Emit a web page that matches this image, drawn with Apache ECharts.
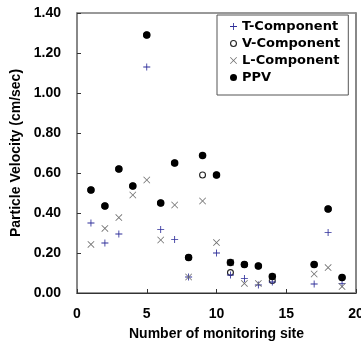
<!DOCTYPE html>
<html>
<head>
<meta charset="utf-8">
<script src="https://cdn.jsdelivr.net/npm/echarts@6/dist/echarts.min.js"></script>
<style>html,body{margin:0;padding:0;background:#fff;}#c{width:361px;height:343px;}</style>
</head>
<body>
<div id="c"></div>
<script>
var sites = [1, 2, 3, 4, 5, 6, 7, 8, 9, 10, 11, 12, 13, 14, 17, 18, 19];
var tComp = [0.35, 0.25, 0.295, null, 1.13, 0.318, 0.268, 0.08, 0.687, 0.20, 0.09, 0.073, 0.04, 0.055, 0.045, 0.303, 0.048];
var vComp = [0.515, 0.435, 0.62, 0.535, 1.29, 0.45, 0.65, 0.177, 0.59, 0.59, 0.102, 0.143, 0.135, 0.062, 0.143, 0.42, 0.078];
var lComp = [0.243, 0.323, 0.377, 0.49, 0.565, 0.265, 0.44, 0.08, 0.46, 0.252, 0.152, 0.048, 0.048, 0.08, 0.095, 0.127, 0.032];
var ppv = [0.515, 0.435, 0.62, 0.535, 1.29, 0.45, 0.65, 0.177, 0.687, 0.59, 0.152, 0.143, 0.135, 0.082, 0.143, 0.42, 0.078];
var yTicks = ['0.00', '0.20', '0.40', '0.60', '0.80', '1.00', '1.20', '1.40'];

function pairs(vals) {
  var out = [];
  for (var i = 0; i < sites.length; i++) {
    if (vals[i] !== null) out.push([sites[i], vals[i]]);
  }
  return out;
}
var plusPath = 'path://M4.4,0H5.6V4.4H10V5.6H5.6V10H4.4V5.6H0V4.4H4.4Z';
var crossPath = 'path://M0,0.8L0.8,0L5,4.2L9.2,0L10,0.8L5.8,5L10,9.2L9.2,10L5,5.8L0.8,10L0,9.2L4.2,5Z';
var ringPath = 'path://M0,5A5,5 0 1,0 10,5A5,5 0 1,0 0,5ZM1.6,5A3.4,3.4 0 1,1 8.4,5A3.4,3.4 0 1,1 1.6,5Z';
var font = 'Liberation Sans';

var chart = echarts.init(document.getElementById('c'), null, {renderer: 'canvas'});
chart.setOption({
  animation: false,
  backgroundColor: '#fff',
  grid: {left: 77, right: 5, top: 13, bottom: 50, show: true, borderColor: '#333', borderWidth: 1,
    containLabel: false, outerBoundsMode: 'none'},
  legend: {
    orient: 'vertical', left: 217, top: 15,
    padding: [5, 8, 11, 13], itemGap: 4, itemWidth: 7, itemHeight: 7,
    borderColor: '#555', borderWidth: 1, backgroundColor: '#fff',
    textStyle: {fontFamily: 'DejaVu Sans', fontWeight: 'bold', fontSize: 13, color: '#000'},
    data: ['T-Component', 'V-Component', 'L-Component', 'PPV']
  },
  xAxis: [{
    type: 'value', min: 0, max: 20, interval: 5,
    name: 'Number of monitoring site', nameLocation: 'middle', nameGap: 34,
    nameTextStyle: {fontFamily: font, fontWeight: 'bold', fontSize: 14, color: '#000'},
    axisLine: {show: true, lineStyle: {color: '#333', width: 1}},
    axisTick: {show: true, inside: true, length: 4, lineStyle: {color: '#333'}},
    axisLabel: {fontFamily: font, fontWeight: 'bold', fontSize: 14, color: '#000', margin: 14, showMaxLabel: true},
    splitLine: {show: false}
  }],
  yAxis: [{
    type: 'value', min: 0, max: 1.4, interval: 0.2,
    name: 'Particle Velocity (cm/sec)', nameLocation: 'middle', nameGap: 52, nameRotate: 90,
    nameTextStyle: {fontFamily: font, fontWeight: 'bold', fontSize: 14, color: '#000'},
    axisLine: {show: true, lineStyle: {color: '#888', width: 2}},
    axisTick: {show: true, inside: true, length: 4, lineStyle: {color: '#333'}},
    axisLabel: {fontFamily: font, fontWeight: 'bold', fontSize: 14, color: '#000', margin: 16,
      formatter: function (v) { return yTicks[Math.round(v / 0.2)]; }},
    splitLine: {show: false}
  }, {
    type: 'value', min: 0, max: 1.4, position: 'right',
    axisLine: {show: true, lineStyle: {color: '#888', width: 2}},
    axisTick: {show: false}, axisLabel: {show: false}, splitLine: {show: false}
  }],
  series: [
    {name: 'T-Component', type: 'scatter', data: pairs(tComp), symbol: plusPath, symbolSize: 7,
      itemStyle: {color: '#2e2e9a', opacity: 1}, z: 3},
    {name: 'V-Component', type: 'scatter', data: pairs(vComp), symbol: ringPath, symbolSize: 7,
      itemStyle: {color: '#222', opacity: 1}, z: 2},
    {name: 'L-Component', type: 'scatter', data: pairs(lComp), symbol: crossPath, symbolSize: 7,
      itemStyle: {color: '#707070', opacity: 1}, z: 3},
    {name: 'PPV', type: 'scatter', data: pairs(ppv), symbol: 'circle', symbolSize: 7.5,
      itemStyle: {color: '#000', opacity: 1}, z: 4}
  ]
});
</script>
</body>
</html>
